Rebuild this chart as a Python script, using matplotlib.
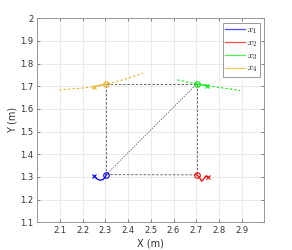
import numpy as np
import matplotlib
matplotlib.use("Agg")
import matplotlib.pyplot as plt

plt.rcParams['mathtext.fontset'] = 'cm'

# agent trajectories (solid) - from start (x marker) to end (circle)
x1_x = [2.251, 2.262, 2.276, 2.290, 2.300, 2.303]
x1_y = [1.304, 1.292, 1.285, 1.289, 1.300, 1.310]
x2_x = [2.751, 2.742, 2.733, 2.724, 2.713, 2.702]
x2_y = [1.301, 1.304, 1.290, 1.281, 1.300, 1.309]
x3_x = [2.749, 2.725, 2.702]
x3_y = [1.703, 1.706, 1.710]
x4_x = [2.250, 2.277, 2.303]
x4_y = [1.698, 1.704, 1.710]

# reference paths (dashed)
x3_ref_x = [2.617, 2.660, 2.702, 2.749, 2.800, 2.850, 2.893]
x3_ref_y = [1.728, 1.719, 1.710, 1.703, 1.695, 1.688, 1.681]
x4_ref_x = [2.096, 2.150, 2.200, 2.250, 2.303, 2.350, 2.400, 2.466]
x4_ref_y = [1.684, 1.688, 1.692, 1.698, 1.710, 1.721, 1.735, 1.758]

# formation links between final positions
links = [((2.303, 1.310), (2.702, 1.309)),
         ((2.303, 1.310), (2.303, 1.710)),
         ((2.303, 1.710), (2.702, 1.710)),
         ((2.702, 1.710), (2.702, 1.309))]
diag = ((2.303, 1.310), (2.702, 1.710))

colors = ['#0000ff', '#ff0000', '#00ee00', '#edb120']
labels = ['$x_1$', '$x_2$', '$x_3$', '$x_4$']

fig = plt.figure(figsize=(2.92, 2.5), dpi=100)
ax = fig.add_axes([0.128, 0.111, 0.777, 0.816])

gray = '#555555'
for (a, b) in links:
    ax.plot([a[0], b[0]], [a[1], b[1]], color=gray, lw=0.6, dashes=(3, 2))
ax.plot([diag[0][0], diag[1][0]], [diag[0][1], diag[1][1]], color=gray, lw=0.6,
        dashes=(1.5, 1.5))

ax.plot(x3_ref_x, x3_ref_y, color=colors[2], lw=0.8, dashes=(2, 2))
ax.plot(x4_ref_x, x4_ref_y, color=colors[3], lw=0.8, dashes=(2, 2))

trajs = [(x1_x, x1_y), (x2_x, x2_y), (x3_x, x3_y), (x4_x, x4_y)]
for (tx, ty), c, lab in zip(trajs, colors, labels):
    ax.plot(tx, ty, color=c, lw=0.9, label=lab)
    ax.plot(tx[0], ty[0], 'x', color=c, ms=3, mew=0.8)
    ax.plot(tx[-1], ty[-1], 'o', color=c, ms=4, mfc='none', mew=0.8)

ax.set_xlim(2.0, 3.0)
ax.set_ylim(1.1, 2.0)
ax.set_xticks(np.arange(2.1, 2.95, 0.1))
ax.set_xticklabels(['2.1', '2.2', '2.3', '2.4', '2.5', '2.6', '2.7', '2.8', '2.9'])
ax.set_yticks(np.arange(1.1, 2.05, 0.1))
ax.set_yticklabels(['1.1', '1.2', '1.3', '1.4', '1.5', '1.6', '1.7', '1.8', '1.9', '2'])
ax.grid(True, color='#e6e6e6', lw=0.6)
ax.set_axisbelow(True)
ax.tick_params(labelsize=6, length=2, width=0.5, color='#555555', labelcolor='#333333',
               direction='in', top=True, right=True, pad=3)
for s in ax.spines.values():
    s.set_color('#888888')
    s.set_linewidth(0.6)
ax.set_xlabel('X (m)', fontsize=7, color='#333333', labelpad=2)
ax.set_ylabel('Y (m)', fontsize=7, color='#333333', labelpad=2)

leg = ax.legend(loc='upper right', fontsize=6.5, handlelength=2.2, borderpad=0.3,
                labelspacing=0.25, handletextpad=0.2, fancybox=False, framealpha=1,
                borderaxespad=0.5)
leg.get_frame().set_edgecolor('#888888')
leg.get_frame().set_linewidth(0.6)
for line in leg.get_lines():
    line.set_alpha(0.7)

fig.savefig('out.png', dpi=100)
